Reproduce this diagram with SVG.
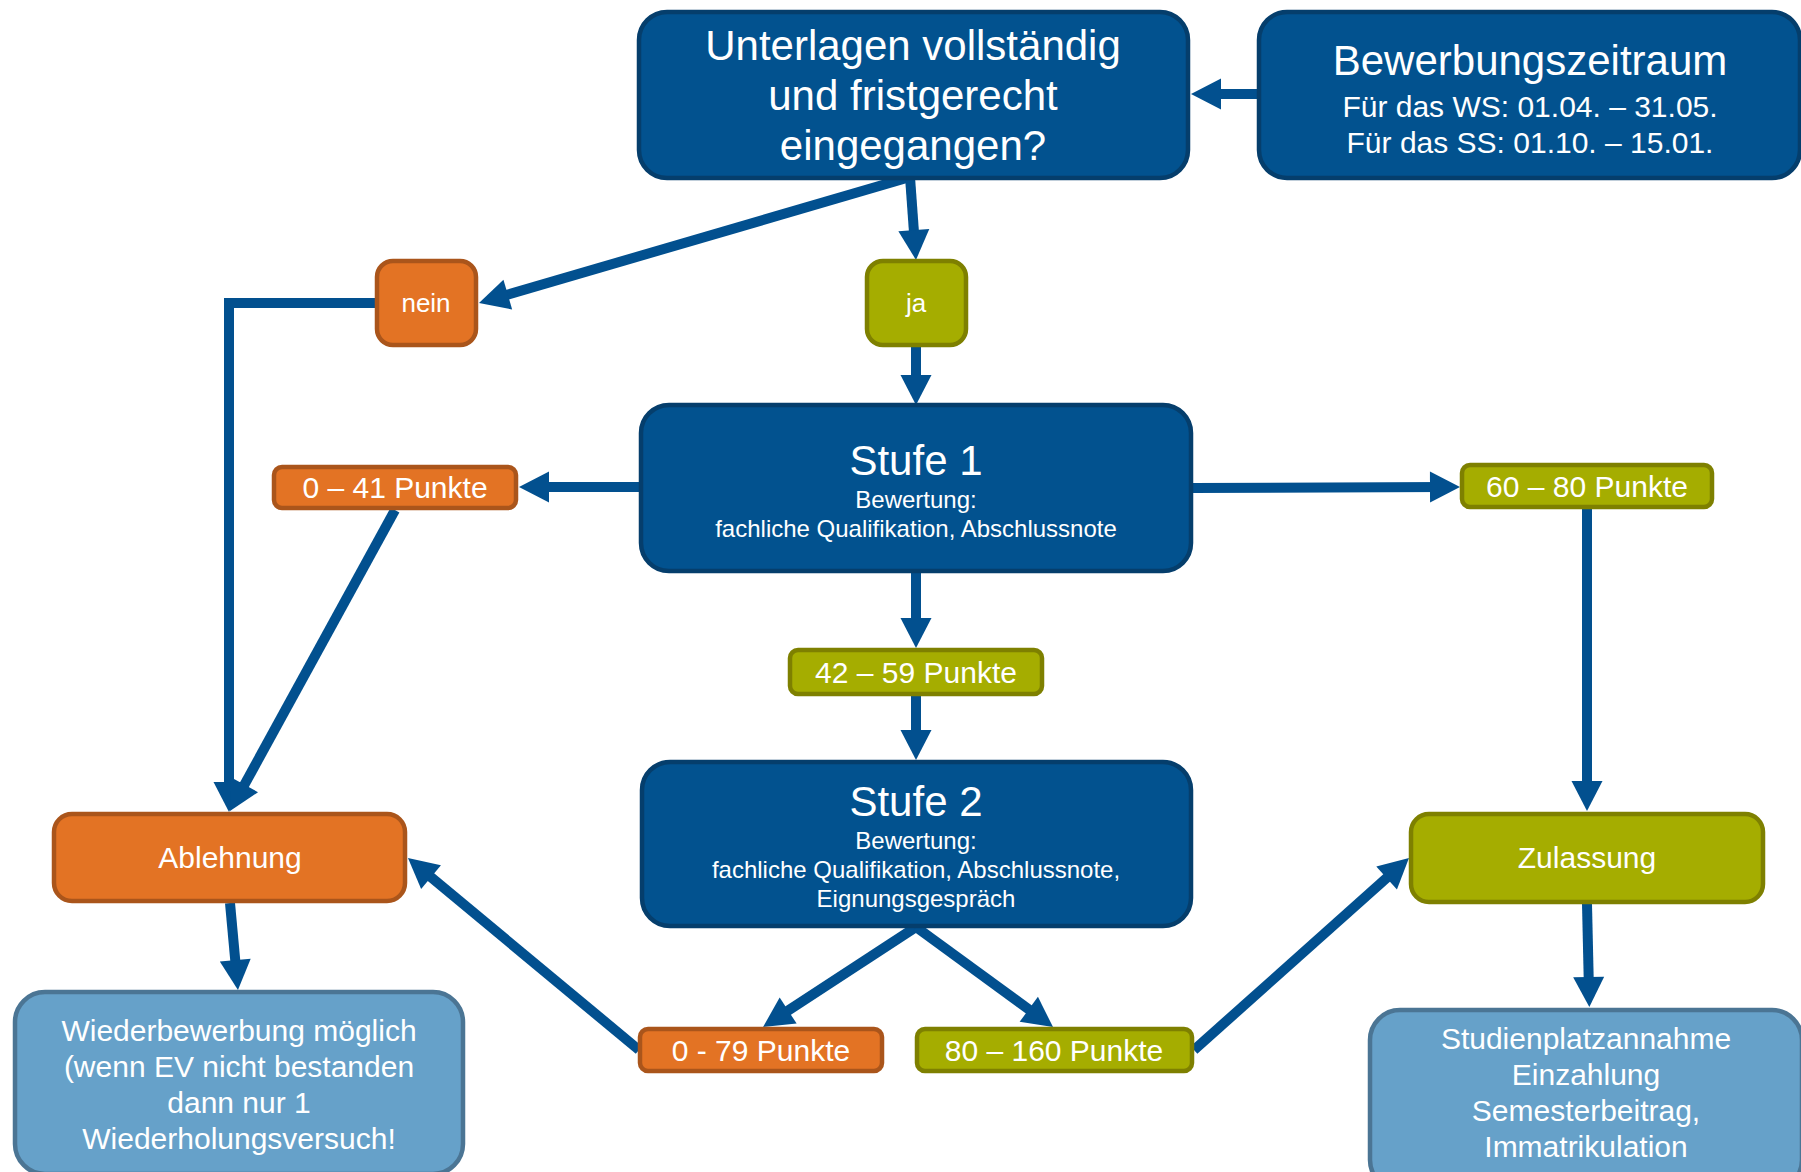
<svg xmlns="http://www.w3.org/2000/svg" width="1801" height="1172" viewBox="0 0 1801 1172">
<style>
text{font-family:"Liberation Sans",Arial,sans-serif;fill:#fff;text-anchor:middle}
.dk{fill:#02528F;stroke:#053E6C;stroke-width:4.5}
.or{fill:#E37324;stroke:#AA551B;stroke-width:4.5}
.ol{fill:#A5AD00;stroke:#7E8000;stroke-width:4.5}
.lb{fill:#66A1C9;stroke:#4B7594;stroke-width:4.5}
.c{fill:none;stroke:#02508F;stroke-width:10;marker-end:url(#ah)}
.f42{font-size:42px}.f30{font-size:30px}.f24{font-size:24px}.f26{font-size:26px}
</style>
<defs>
<marker id="ah" markerUnits="userSpaceOnUse" markerWidth="30" markerHeight="31" refX="15" refY="15.5" orient="auto" overflow="visible">
<path d="M0,0 L30,15.5 L0,31 z" fill="#02508F"/>
</marker>
</defs>
<rect width="1801" height="1172" fill="#fff"/>
<g id="connectors">
<line class="c" x1="1258" y1="94" x2="1206" y2="94"/>
<line class="c" x1="910" y1="177" x2="493.4" y2="298.8"/>
<line class="c" x1="910" y1="177" x2="914.9" y2="245"/>
<polyline class="c" points="377,303 229,303 229,797"/>
<line class="c" x1="916" y1="347" x2="916" y2="390"/>
<line class="c" x1="641" y1="487" x2="534" y2="487"/>
<line class="c" x1="395" y1="510" x2="237.2" y2="797.9"/>
<line class="c" x1="1193" y1="488" x2="1445" y2="487"/>
<line class="c" x1="1587" y1="509" x2="1587" y2="796"/>
<line class="c" x1="916" y1="573" x2="916" y2="633"/>
<line class="c" x1="916" y1="696" x2="916" y2="745"/>
<line class="c" x1="916" y1="927" x2="775.6" y2="1018.8"/>
<line class="c" x1="916" y1="927" x2="1040.9" y2="1018.2"/>
<line class="c" x1="639" y1="1050" x2="419.5" y2="867.6"/>
<line class="c" x1="1194" y1="1050" x2="1397.8" y2="868"/>
<line class="c" x1="230" y1="903" x2="236.6" y2="975.1"/>
<line class="c" x1="1587" y1="904" x2="1589" y2="992"/>
</g>
<g id="unterlagen">
<rect class="dk" x="639" y="12" width="549" height="166" rx="28"/>
<text class="f42" x="913" y="60">Unterlagen vollständig</text>
<text class="f42" x="913" y="110">und fristgerecht</text>
<text class="f42" x="913" y="160">eingegangen?</text>
</g>
<g id="bewerbungszeitraum">
<rect class="dk" x="1259" y="12" width="541" height="166" rx="28"/>
<text class="f42" x="1530" y="75">Bewerbungszeitraum</text>
<text class="f30" x="1530" y="117">Für das WS: 01.04. – 31.05.</text>
<text class="f30" x="1530" y="153">Für das SS: 01.10. – 15.01.</text>
</g>
<g id="nein">
<rect class="or" x="377" y="261" width="99" height="84" rx="16"/>
<text class="f26" x="426" y="312">nein</text>
</g>
<g id="ja">
<rect class="ol" x="867" y="261" width="99" height="84" rx="16"/>
<text class="f26" x="916" y="312">ja</text>
</g>
<g id="stufe1">
<rect class="dk" x="641" y="405" width="550" height="166" rx="28"/>
<text class="f42" x="916" y="475">Stufe 1</text>
<text class="f24" x="916" y="508">Bewertung:</text>
<text class="f24" x="916" y="537">fachliche Qualifikation, Abschlussnote</text>
</g>
<g id="p0-41">
<rect class="or" x="274" y="467" width="242" height="41" rx="8"/>
<text class="f30" x="395" y="498">0 – 41 Punkte</text>
</g>
<g id="p60-80">
<rect class="ol" x="1462" y="465" width="250" height="42" rx="8"/>
<text class="f30" x="1587" y="497">60 – 80 Punkte</text>
</g>
<g id="p42-59">
<rect class="ol" x="790" y="650" width="252" height="44" rx="8"/>
<text class="f30" x="916" y="683">42 – 59 Punkte</text>
</g>
<g id="stufe2">
<rect class="dk" x="642" y="762" width="549" height="164" rx="28"/>
<text class="f42" x="916" y="816">Stufe 2</text>
<text class="f24" x="916" y="849">Bewertung:</text>
<text class="f24" x="916" y="878">fachliche Qualifikation, Abschlussnote,</text>
<text class="f24" x="916" y="907">Eignungsgespräch</text>
</g>
<g id="p0-79">
<rect class="or" x="640" y="1029" width="242" height="42" rx="8"/>
<text class="f30" x="761" y="1061">0 - 79 Punkte</text>
</g>
<g id="p80-160">
<rect class="ol" x="917" y="1029" width="275" height="42" rx="8"/>
<text class="f30" x="1054" y="1061">80 – 160 Punkte</text>
</g>
<g id="ablehnung">
<rect class="or" x="54" y="814" width="351" height="87" rx="18"/>
<text class="f30" x="230" y="868">Ablehnung</text>
</g>
<g id="zulassung">
<rect class="ol" x="1411" y="814" width="352" height="88" rx="18"/>
<text class="f30" x="1587" y="868">Zulassung</text>
</g>
<g id="wiederbewerbung">
<rect class="lb" x="15" y="992" width="448" height="182" rx="30"/>
<text class="f30" x="239" y="1041">Wiederbewerbung möglich</text>
<text class="f30" x="239" y="1077">(wenn EV nicht bestanden</text>
<text class="f30" x="239" y="1113">dann nur 1</text>
<text class="f30" x="239" y="1149">Wiederholungsversuch!</text>
</g>
<g id="studienplatz">
<rect class="lb" x="1370" y="1010" width="432" height="180" rx="30"/>
<text class="f30" x="1586" y="1049">Studienplatzannahme</text>
<text class="f30" x="1586" y="1085">Einzahlung</text>
<text class="f30" x="1586" y="1121">Semesterbeitrag,</text>
<text class="f30" x="1586" y="1157">Immatrikulation</text>
</g>
</svg>
